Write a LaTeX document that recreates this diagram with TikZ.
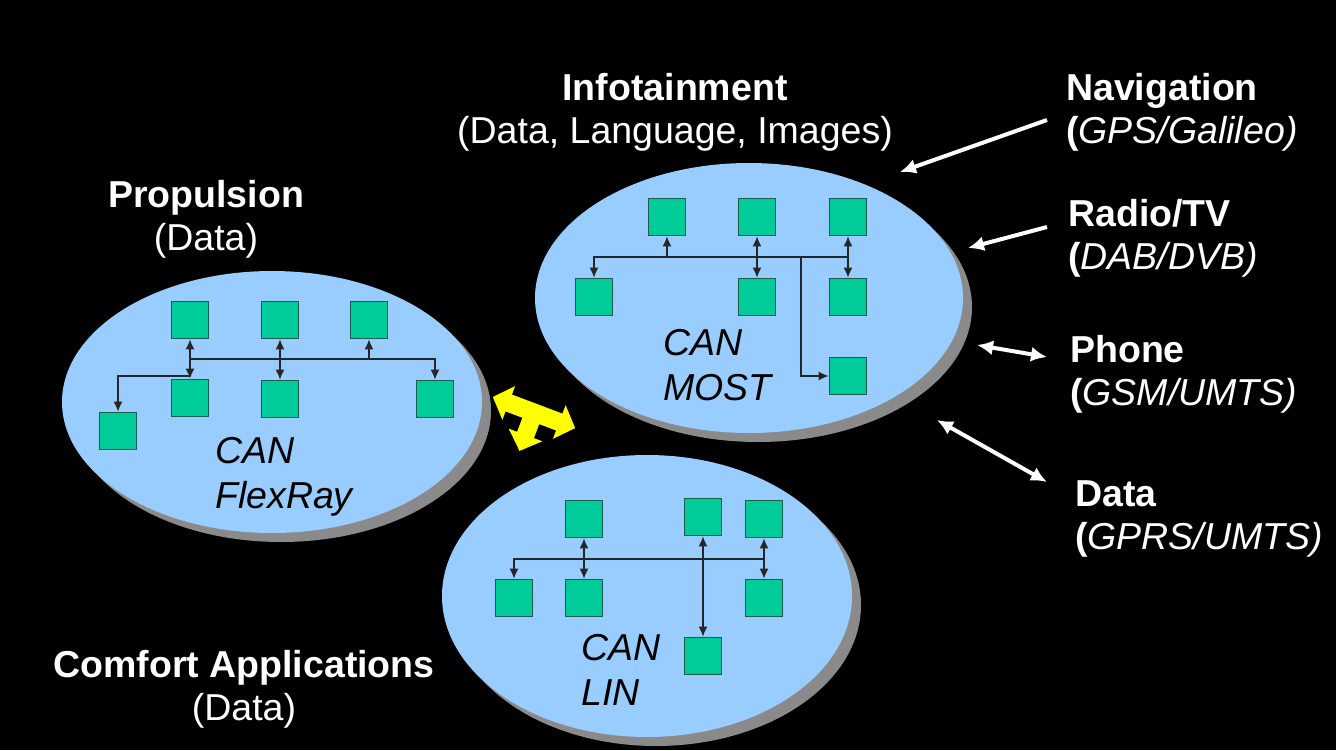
\documentclass[tikz,border=0pt]{standalone}
\usepackage{fontspec}
\setmainfont{Liberation Sans}
\usetikzlibrary{shapes.geometric,arrows.meta}
\definecolor{bub}{HTML}{99CCFF}
\definecolor{shd}{HTML}{8A8A8A}
\definecolor{ecu}{HTML}{00CC99}
\definecolor{ecub}{HTML}{1E5A4E}
\definecolor{yel}{HTML}{FFFF00}
\begin{document}
\begin{tikzpicture}[x=1pt,y=-1pt,
 bubble/.style={ellipse, fill=bub, inner sep=0},
 bubshadow/.style={ellipse, fill=shd, inner sep=0},
 ecubox/.style={draw=ecub, fill=ecu, line width=1.8pt, minimum width=37pt, minimum height=37pt, inner sep=0},
 busline/.style={draw=black!85, line width=1.4pt},
 bus/.style={busline, arrows={-Latex[length=10pt,width=9pt]}},
 busboth/.style={busline, arrows={Latex[length=10pt,width=9pt]-Latex[length=10pt,width=9pt]}},
 title/.style={text=white, font=\fontsize{37.5}{43}\selectfont, align=center, anchor=base, inner sep=0},
 side/.style={text=white, font=\fontsize{37.5}{43}\selectfont, align=left, anchor=base west, inner sep=0},
 netlabel/.style={text=black, font=\fontsize{37.5}{45}\selectfont\itshape, align=left, anchor=base west, inner sep=0},
 whitearrow/.style={draw=white, line width=4pt, arrows={-Latex[length=16pt,width=15pt]}},
 whiteboth/.style={draw=white, line width=4pt, arrows={Latex[length=16pt,width=15pt]-Latex[length=16pt,width=15pt]}},
]
\useasboundingbox (0,0) rectangle (1336,750);
\fill[black] (0,0) rectangle (1336,750);

% ---------- bubbles ----------
\node[bubshadow, minimum width=420pt, minimum height=262pt] (props) at (281,411) {};
\node[bubble, minimum width=420pt, minimum height=262pt] (prop) at (272,402) {};
\node[bubshadow, minimum width=410pt, minimum height=282pt] (comfs) at (656,605) {};
\node[bubble, minimum width=410pt, minimum height=282pt] (comf) at (647,596) {};
\node[bubshadow, minimum width=428pt, minimum height=270pt] (infos) at (758,307) {};
\node[bubble, minimum width=428pt, minimum height=270pt] (info) at (749,298) {};

% ---------- Propulsion network ----------
\node[ecubox] (p1) at (190,320) {};
\node[ecubox] (p2) at (280,320) {};
\node[ecubox] (p3) at (369,320) {};
\node[ecubox] (p4) at (190,398) {};
\node[ecubox] (p5) at (280,399) {};
\node[ecubox] (p6) at (435,399) {};
\node[ecubox] (p7) at (118,431) {};
\coordinate (pb) at (190,359);
\coordinate (pl) at (190,376);
\draw[busboth] (p1) -- (p4);
\draw[busboth] (p2) -- (p5);
\draw[bus] (pb) -| (p6);
\draw[bus] (p3.south |- pb) -- (p3);
\draw[bus] (pl) -| (p7);
\node[netlabel] (canp) at (215,508) {CAN\\FlexRay};

% ---------- Infotainment network ----------
\node[ecubox] (i1) at (667,217) {};
\node[ecubox] (i2) at (757,217) {};
\node[ecubox] (i3) at (848,217) {};
\node[ecubox] (i4) at (594,297) {};
\node[ecubox] (i5) at (757,297) {};
\node[ecubox] (i6) at (848,297) {};
\node[ecubox] (i7) at (848,376) {};
\coordinate (ib) at (848,257);
\coordinate (ibr) at (801,257);
\draw[bus] (ib) -| (i4);
\draw[bus] (i1.south |- ib) -- (i1);
\draw[busboth] (i2) -- (i5);
\draw[busboth] (i3) -- (i6);
\draw[bus] (ibr) |- (i7);
\node[netlabel] (cani) at (663,400) {CAN\\MOST};

% ---------- Comfort network ----------
\node[ecubox] (c1) at (584,519) {};
\node[ecubox] (c2) at (703,517) {};
\node[ecubox] (c3) at (764,519) {};
\node[ecubox] (c4) at (514,598) {};
\node[ecubox] (c5) at (584,598) {};
\node[ecubox] (c6) at (764,598) {};
\node[ecubox] (c7) at (703,656) {};
\coordinate (cb) at (764,559);
\draw[bus] (cb) -| (c4);
\draw[busboth] (c1) -- (c5);
\draw[busboth] (c3) -- (c6);
\draw[busboth] (c2) -- (c7);
\node[netlabel] (canc) at (581,705) {CAN\\LIN};

% ---------- yellow gateway arrow ----------
\begin{scope}[shift={(534,412.5)}, rotate=-20.7]
\fill[yel] (-44,0) -- (-27,-18) -- (-27,-9) -- (27,-9) -- (27,-18) -- (44,0)
  -- (27,18) -- (27,9) -- (9,9) -- (9,24) -- (18,24) -- (0,41) -- (-18,24)
  -- (-9,24) -- (-9,9) -- (-27,9) -- (-27,18) -- cycle;
\end{scope}

% ---------- titles ----------
\node[title] (tprop) at (206,250) {{\bfseries Propulsion}\\(Data)};
\node[title] (tinfo) at (675,143) {{\bfseries Infotainment}\\(Data, Language, Images)};
\node[title] (tcomf) at (244,720) {{\bfseries Comfort Applications}\\(Data)};

% ---------- external services ----------
\node[side] (nav) at (1066,143) {{\bfseries Navigation}\\{\bfseries(}\textit{GPS/Galileo)}};
\node[side] (rad) at (1068,269) {{\bfseries Radio/TV}\\{\bfseries(}\textit{DAB/DVB)}};
\node[side] (pho) at (1070,405) {{\bfseries Phone}\\{\bfseries(}\textit{GSM/UMTS)}};
\node[side] (dat) at (1075,549) {{\bfseries Data}\\{\bfseries(}\textit{GPRS/UMTS)}};

\coordinate (navA) at (1047,120);
\coordinate (navB) at (900,172);
\coordinate (radA) at (1047,227);
\coordinate (radB) at (968,248);
\coordinate (phoA) at (977,345);
\coordinate (phoB) at (1047,357);
\coordinate (datA) at (937,420);
\coordinate (datB) at (1047,482);
\draw[whitearrow] (navA) -- (navB);
\draw[whitearrow] (radA) -- (radB);
\draw[whiteboth] (phoA) -- (phoB);
\draw[whiteboth] (datA) -- (datB);
\end{tikzpicture}
\end{document}
